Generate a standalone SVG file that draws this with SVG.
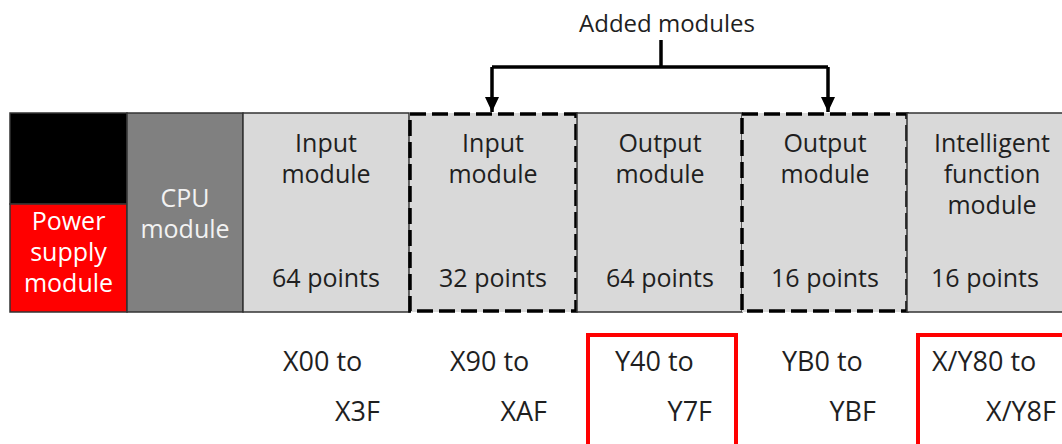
<svg xmlns="http://www.w3.org/2000/svg" width="1062" height="444" viewBox="0 0 1062 444">
<style>
text{font-family:"Open Sans","Liberation Sans",sans-serif;font-size:25px;fill:#1f1f1f}
.c{text-anchor:middle}
.w{fill:#ffffff}
.box{fill:#d9d9d9;stroke:#333333;stroke-width:1.5}
.dash{fill:none;stroke:#000000;stroke-width:3.5;stroke-dasharray:16 6}
.lbl{font-size:27px}
.e{text-anchor:end}
.red{fill:none;stroke:#ff0000;stroke-width:4}
.conn{fill:none;stroke:#000000;stroke-width:3.5}
</style>
<defs>
<marker id="ah" markerUnits="userSpaceOnUse" markerWidth="16" markerHeight="16" viewBox="0 0 16 16" refX="8" refY="15" orient="0">
<polygon points="1,0 15,0 8,15" fill="#000000"/>
</marker>
</defs>
<text class="c" x="667" y="32" style="font-size:24px">Added modules</text>
<g id="connectors">
<path class="conn" d="M661,40 V67"/>
<path class="conn" d="M492,67 H828"/>
<path class="conn" d="M492,67 V112" marker-end="url(#ah)"/>
<path class="conn" d="M828,67 V112" marker-end="url(#ah)"/>
</g>
<g id="power">
<rect x="10" y="113" width="117" height="91" fill="#000000" stroke="#333333" stroke-width="1.5"/>
<rect x="10" y="204" width="117" height="108" fill="#ff0000" stroke="#333333" stroke-width="1.5"/>
<text class="c w" x="68.5" y="230">Power</text>
<text class="c w" x="68.5" y="261">supply</text>
<text class="c w" x="68.5" y="292">module</text>
</g>
<g id="cpu">
<rect x="127" y="113" width="116" height="199" fill="#808080" stroke="#333333" stroke-width="1.5"/>
<text class="c" x="185" y="207" style="fill:#f2f2f2">CPU</text>
<text class="c" x="185" y="238" style="fill:#f2f2f2">module</text>
</g>
<g id="input64">
<rect class="box" x="243" y="113" width="166" height="199"/>
<text class="c" x="326" y="152">Input</text>
<text class="c" x="326" y="183">module</text>
<text class="c" x="326" y="287">64 points</text>
</g>
<g id="input32">
<rect class="box" x="410" y="113" width="166" height="199" style="stroke:none"/>
<rect class="dash" x="410" y="114" width="166" height="197"/>
<text class="c" x="493" y="152">Input</text>
<text class="c" x="493" y="183">module</text>
<text class="c" x="493" y="287">32 points</text>
</g>
<g id="output64">
<rect class="box" x="577" y="113" width="165" height="199"/>
<text class="c" x="660" y="152">Output</text>
<text class="c" x="660" y="183">module</text>
<text class="c" x="660" y="287">64 points</text>
</g>
<g id="output16">
<rect class="box" x="742" y="113" width="165" height="199" style="stroke:none"/>
<rect class="dash" x="742" y="114" width="165" height="197"/>
<text class="c" x="825" y="152">Output</text>
<text class="c" x="825" y="183">module</text>
<text class="c" x="825" y="287">16 points</text>
</g>
<g id="intelligent">
<rect class="box" x="907" y="113" width="170" height="199"/>
<text class="c" x="992" y="152">Intelligent</text>
<text class="c" x="992" y="183">function</text>
<text class="c" x="992" y="214">module</text>
<text class="c" x="985" y="287">16 points</text>
</g>
<g id="addr-x00">
<text class="lbl" x="283" y="371">X00 to</text>
<text class="lbl e" x="380" y="421">X3F</text>
</g>
<g id="addr-x90">
<text class="lbl" x="450" y="371">X90 to</text>
<text class="lbl e" x="547" y="421">XAF</text>
</g>
<g id="addr-y40">
<rect class="red" x="588" y="335" width="148" height="120"/>
<text class="lbl" x="615" y="371">Y40 to</text>
<text class="lbl e" x="712" y="421">Y7F</text>
</g>
<g id="addr-yb0">
<text class="lbl" x="782" y="371">YB0 to</text>
<text class="lbl e" x="876" y="421">YBF</text>
</g>
<g id="addr-xy80">
<rect class="red" x="918" y="335" width="160" height="120"/>
<text class="lbl" x="932" y="371">X/Y80 to</text>
<text class="lbl e" x="1056" y="421">X/Y8F</text>
</g>
</svg>
